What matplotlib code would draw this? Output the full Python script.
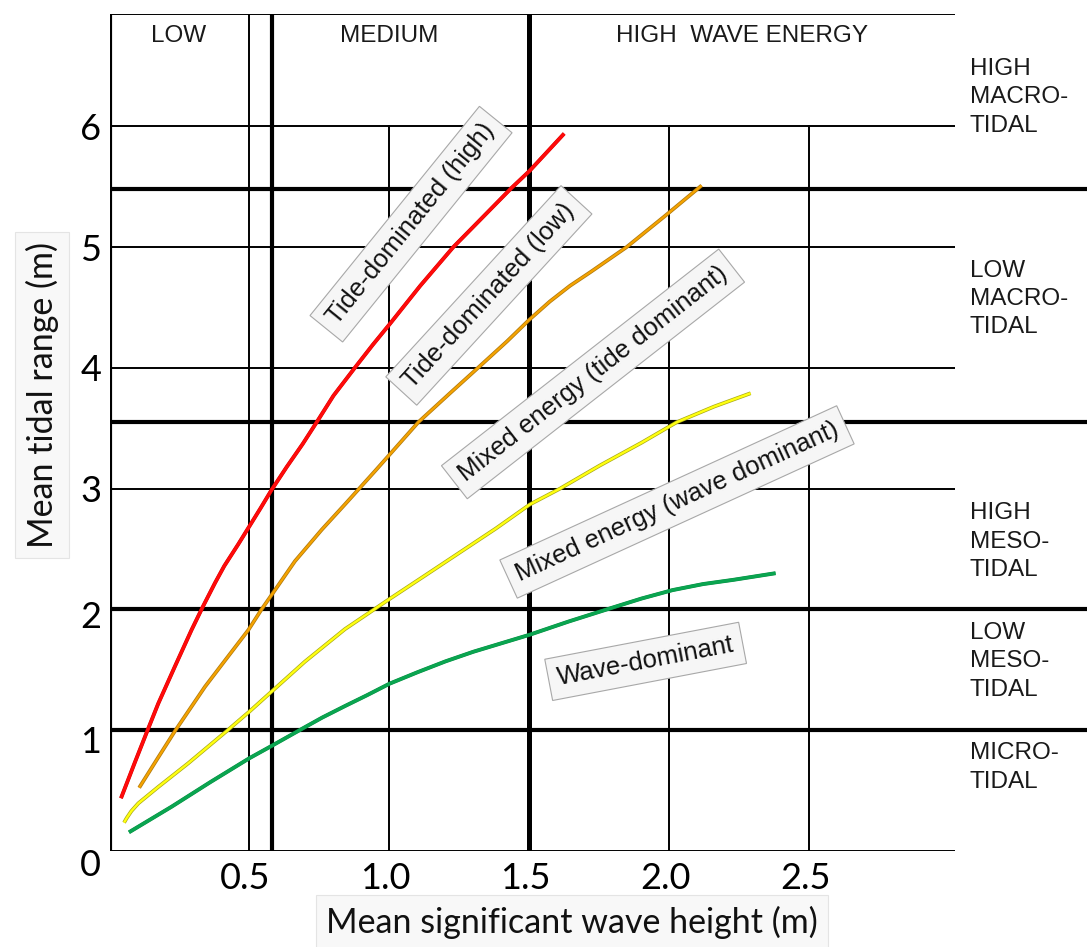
import matplotlib
matplotlib.use("Agg")
import matplotlib.pyplot as plt
import matplotlib.patheffects as pe
from matplotlib.transforms import ScaledTranslation

# ---- data ------------------------------------------------------------------
tide_high_x = [0.041, 0.09, 0.136, 0.174, 0.234, 0.293, 0.335, 0.377, 0.41, 0.46, 0.50,
               0.54, 0.579, 0.633, 0.69, 0.74, 0.80, 0.876, 0.94, 1.0, 1.11, 1.228, 1.33,
               1.436, 1.5, 1.56, 1.624]
tide_high_y = [0.437, 0.73, 1.0, 1.22, 1.53, 1.83, 2.03, 2.22, 2.36, 2.54, 2.69,
               2.84, 2.99, 3.18, 3.37, 3.55, 3.77, 4.0, 4.19, 4.36, 4.68, 5.0, 5.24,
               5.49, 5.63, 5.78, 5.94]

tide_low_x = [0.106, 0.17, 0.234, 0.341, 0.42, 0.496, 0.543, 0.579, 0.6625, 0.758, 0.841,
              0.95, 1.103, 1.216, 1.316, 1.42, 1.50, 1.573, 1.645, 1.716, 1.847, 1.98, 2.115]
tide_low_y = [0.524, 0.76, 0.994, 1.36, 1.60, 1.83, 2.0, 2.12, 2.40, 2.66, 2.87,
              3.15, 3.55, 3.79, 4.0, 4.22, 4.4, 4.55, 4.68, 4.79, 5.0, 5.25, 5.51]

mixed_tide_x = [0.052, 0.062, 0.078, 0.103, 0.174, 0.281, 0.419, 0.4995, 0.579, 0.698, 0.841,
                0.996, 1.12, 1.25, 1.38, 1.502, 1.609, 1.75, 1.9, 2.026, 2.16, 2.29]
mixed_tide_y = [0.235, 0.275, 0.33, 0.395, 0.53, 0.726, 0.994, 1.154, 1.32, 1.568, 1.837,
                2.08, 2.27, 2.47, 2.67, 2.87, 3.0, 3.19, 3.38, 3.55, 3.68, 3.79]

wave_dom_x = [0.0696, 0.222, 0.36, 0.4995, 0.579, 0.674, 0.76, 0.841, 0.92, 1.0, 1.1, 1.2,
              1.3, 1.4, 1.5, 1.64, 1.776, 1.9, 2.011, 2.12, 2.228, 2.379]
wave_dom_y = [0.155, 0.367, 0.57, 0.768, 0.87, 0.994, 1.105, 1.20, 1.29, 1.385, 1.48, 1.57,
              1.65, 1.72, 1.79, 1.9, 2.0, 2.09, 2.16, 2.21, 2.245, 2.30]

curve_labels = ["Tide-dominated (high)", "Tide-dominated (low)",
                "Mixed energy (tide dominant)", "Mixed energy (wave dominant)",
                "Wave-dominant"]
label_x = [1.077, 1.355, 1.727, 2.027, 1.915]
label_y = [5.19, 4.60, 3.95, 2.89, 1.57]
label_rot = [51, 47.5, 38, 24.6, 10.8]

energy_labels = ["LOW", "MEDIUM", "HIGH  WAVE ENERGY"]
energy_x = [0.248, 0.998, 2.259]

tidal_labels = ["HIGH\nMACRO-\nTIDAL", "LOW\nMACRO-\nTIDAL", "HIGH\nMESO-\nTIDAL",
                "LOW\nMESO-\nTIDAL", "MICRO-\nTIDAL"]
tidal_y = [6.24, 4.57, 2.56, 1.57, 0.69]

x_ticks = [0.5, 1.0, 1.5, 2.0, 2.5]
y_ticks = [0, 1, 2, 3, 4, 5, 6]
y_label_drop = [11, 9, 5, 0, 0, 0, 0]   # px, the low labels sit a bit under their line

# class boundaries
thin_h = [0, 3, 4, 5, 6]       # end at the plot edge
thick_h = [1, 2, 3.55, 5.48]   # run out to the figure edge
y_top = 6.93
x_right = 3.02

# ---- figure -----------------------------------------------------------------
fig = plt.figure(figsize=(10.87, 9.47), dpi=100)
ax = fig.add_axes([109.5 / 1087, 96 / 947, (955 - 109.5) / 1087, (851 - 14) / 947])
ax.set_xlim(0, x_right)
ax.set_ylim(0, y_top)
for s in ax.spines.values():
    s.set_visible(False)

k = "black"
thin, thick = 1.4, 3.0
for y in thin_h:
    ax.plot([0, x_right], [y, y], color=k, lw=thin, solid_capstyle="butt")
ax.plot([0, x_right], [y_top, y_top], color=k, lw=thin)
for y in thick_h:
    ax.plot([0, 3.5], [y, y], color=k, lw=thick, clip_on=False, solid_capstyle="butt")
# verticals
ax.plot([0, 0], [0, y_top], color=k, lw=thick)
ax.plot([0.5, 0.5], [0, y_top], color=k, lw=thin)
ax.plot([0.58, 0.58], [0, y_top], color=k, lw=thick)
ax.plot([1.5, 1.5], [0, y_top], color=k, lw=3.6)
for x in [1.0, 2.0, 2.5]:
    ax.plot([x, x], [0, 6], color=k, lw=thin)

# curves
ax.plot(tide_high_x, tide_high_y, color="#ff0a0a", lw=2.3, solid_capstyle="butt",
        path_effects=[pe.Stroke(linewidth=2.8, foreground="#d00000"), pe.Normal()])
ax.plot(tide_low_x, tide_low_y, color="#f5a300", lw=1.6, solid_capstyle="butt",
        path_effects=[pe.Stroke(linewidth=2.7, foreground="#b07a10"), pe.Normal()])
ax.plot(mixed_tide_x, mixed_tide_y, color="#ffff10", lw=1.7, solid_capstyle="butt",
        path_effects=[pe.Stroke(linewidth=2.7, foreground="#a8a818"), pe.Normal()])
ax.plot(wave_dom_x, wave_dom_y, color="#0aa550", lw=2.3, solid_capstyle="butt",
        path_effects=[pe.Stroke(linewidth=2.8, foreground="#078a42"), pe.Normal()])

# curve labels in grey boxes
for txt, lx, ly, rot in zip(curve_labels, label_x, label_y, label_rot):
    ax.text(lx, ly, txt, rotation=rot, rotation_mode="anchor", ha="center", va="center",
            fontsize=18.5, family="Liberation Sans", color="#111111", zorder=5,
            bbox=dict(boxstyle="square,pad=0.35", fc="#f6f6f6", ec="#a8a8a8", lw=0.8))

for txt, ex in zip(energy_labels, energy_x):
    ax.text(ex, 6.744, txt, ha="center", va="center", fontsize=17.5,
            family="Liberation Sans", color="#1a1a1a")

for txt, ty in zip(tidal_labels, tidal_y):
    ax.text(3.073, ty, txt, ha="left", va="center", fontsize=17.5, linespacing=1.38,
            family="Liberation Sans", color="#1a1a1a", clip_on=False)

# ticks
ax.set_xticks(x_ticks)
ax.set_xticklabels([f"{v:.1f}" for v in x_ticks])
ax.set_yticks(y_ticks)
ax.set_yticklabels([str(v) for v in y_ticks])
ax.tick_params(axis="x", length=0, pad=8, labelsize=26)
ax.tick_params(axis="y", length=0, pad=6, labelsize=26)
for lab in ax.get_xticklabels():
    lab.set_family("Lato")
    lab.set_transform(lab.get_transform() + ScaledTranslation(-0.04, 0, fig.dpi_scale_trans))
for lab, drop in zip(ax.get_yticklabels(), y_label_drop):
    lab.set_family("Lato")
    lab.set_transform(lab.get_transform() + ScaledTranslation(0, -drop / 100, fig.dpi_scale_trans))

# axis titles in faint boxes
fig.text(572 / 1087, 1 - 922 / 947, "Mean significant wave height (m)", ha="center",
         va="center", fontsize=24.5, family="Lato", color="#111111",
         bbox=dict(boxstyle="square,pad=0.3", fc="#f8f8f8", ec="#e4e4e4", lw=0.8))
fig.text(42 / 1087, 1 - 395 / 947, "Mean tidal range (m)", ha="center", va="center",
         rotation=90, fontsize=24.5, family="Lato", color="#111111",
         bbox=dict(boxstyle="square,pad=0.3", fc="#f8f8f8", ec="#e4e4e4", lw=0.8))

fig.savefig("out.png", dpi=100)
